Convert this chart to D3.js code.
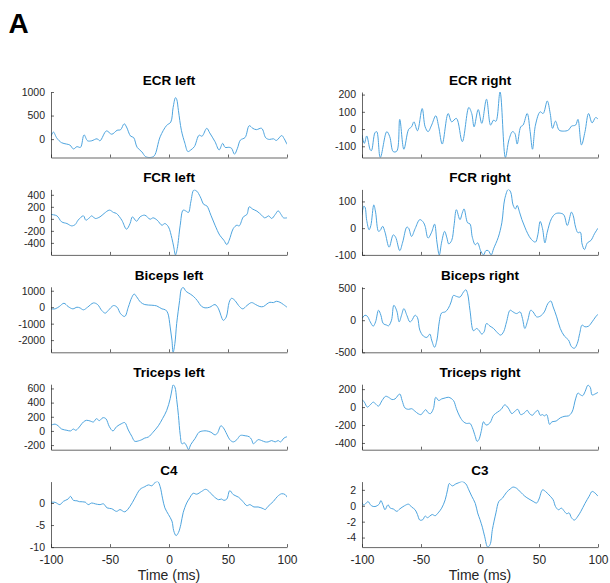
<!DOCTYPE html>
<html><head><meta charset="utf-8">
<script src="https://cdn.jsdelivr.net/npm/d3@7"></script>
<style>
body{margin:0;background:#fff}
svg{display:block}
text{font-family:"Liberation Sans",Arial,Helvetica,sans-serif}
</style>
</head><body>
<svg id="chart" width="610" height="583"></svg>
<script>
// ---------- data (time in ms, value) ----------
const xTicks = [-100, -50, 0, 50, 100];
const panelLetter = "A";
const xLabel = "Time (ms)";

const ecrLeft = [[-100,60],[-98,150],[-95,20],[-91,-76],[-87,-104],[-84,-125],[-81,-208],[-78,-160],[-75,-174],[-72,90],[-69,-35],[-65.5,-35],[-61,7],[-58.5,-35],[-53,174],[-48.5,104],[-44,187],[-41,200],[-38,326],[-36,257],[-32.5,62],[-30,35],[-27,-174],[-23,-270],[-20,-368],[-16,-390],[-12.5,-354],[-7.5,49],[-2,291],[1.5,361],[3.5,673],[5.5,880],[6.5,847],[8,604],[10.5,187],[13.5,-90],[16,-264],[18.5,-229],[21.5,-160],[25.5,83],[28,62],[32,229],[34.5,132],[39,-55],[42.5,-229],[45.5,-90],[47.5,-174],[51,-174],[53,-194],[55.5,-319],[58,-194],[60.5,-21],[64.5,35],[68,285],[71,229],[74,201],[78.5,229],[82,28],[85,-7],[88.5,7],[91,-28],[95.5,76],[97.5,14],[100,-111]];

const ecrRight = [[-100,-35],[-98,-83],[-96,-40],[-93,-121],[-92,-125],[-89,-21],[-87.5,-15],[-84.5,-165],[-79,-15],[-76.5,-44],[-73.5,-131],[-70.5,-128],[-68,56],[-64.5,-117],[-60.5,-2],[-58,13],[-56,42],[-53,-10],[-49,119],[-46.5,13],[-44,-15],[-41,23],[-37.5,77],[-35,13],[-32,-87],[-27,90],[-24,42],[-20,62],[-15,-73],[-9.5,125],[-7,90],[-5,13],[-1.5,113],[1.5,33],[5.5,173],[9,23],[11.5,52],[13.5,45],[17,215],[21.5,-165],[24.5,-63],[27.5,-15],[29.5,-25],[31.5,-87],[34.5,13],[36.5,23],[40,90],[42.5,-15],[44.5,-117],[47,23],[51,100],[53.5,90],[57,163],[59.5,90],[61.5,4],[64,46],[67,-6],[70.5,-12],[75,-6],[77.5,17],[81,23],[83,56],[86,-92],[89,-15],[92,90],[95,36],[98,67],[100,58]];

const fcrLeft = [[-100,72],[-95,50],[-91,-50],[-86.5,-78],[-82.5,-117],[-79.5,-95],[-77,-22],[-72.5,50],[-70.5,-22],[-67.5,17],[-65.5,50],[-62.5,6],[-58.5,33],[-55,89],[-50.5,145],[-47,106],[-44.5,89],[-40,-22],[-36,-172],[-33,-78],[-31,33],[-27.5,-39],[-24.5,33],[-20.5,61],[-16,-6],[-13.5,17],[-10,-22],[-6,-106],[-3.5,-78],[-0.5,-133],[2.5,-328],[4,-467],[5.5,-600],[7,-494],[9.5,-106],[12,145],[14.5,128],[16.5,106],[18.5,283],[21,478],[23.5,461],[26.5,367],[29.5,239],[32,217],[35.5,61],[39,-106],[43,-272],[46.5,-356],[49,-428],[51,-356],[54.5,-161],[57.5,-106],[59.5,-117],[63,33],[66,72],[68,200],[71,161],[74.5,128],[78.5,61],[81,17],[83,33],[84.5,50],[87,6],[90,72],[92.5,133],[95,72],[97,17],[100,17]];

const fcrRight = [[-100,50],[-98.5,82],[-97.5,79],[-96,29],[-94,-6],[-92.5,10],[-90,87],[-88.5,60],[-86,-12],[-84.5,-8],[-82.5,7],[-80.5,-15],[-77,-71],[-73.5,-25],[-71.5,-34],[-68,-84],[-65.5,-52],[-62,4],[-60.5,0],[-58,-31],[-55,-2],[-51,32],[-48,22],[-46.5,7],[-44,-37],[-41,-15],[-38.5,15],[-36.5,-52],[-34.5,-100],[-32.5,-52],[-30,-12],[-28,-37],[-26.5,-59],[-24,-46],[-22,10],[-20,69],[-17,32],[-15,57],[-13.5,72],[-10.5,20],[-8.5,16],[-6.5,-34],[-4,-62],[-2,-55],[0.5,-84],[3,-100],[5,-84],[7,-84],[9.5,-100],[11.5,-77],[15.5,-34],[18.5,20],[21,110],[24,145],[26,135],[28,87],[30,72],[31.5,85],[33.5,60],[35.5,32],[38,4],[40.5,-21],[43.5,-42],[47,-52],[49,-25],[51,25],[53,-2],[55,-55],[57,-15],[60.5,35],[64,54],[68,56],[71,50],[74,10],[77.5,60],[79,47],[81,4],[83,-17],[85,-15],[86.5,-59],[88.5,-80],[91,-55],[94,-46],[97,-21],[100,0]];

const bicepsLeft = [[-100,-100],[-96.5,-100],[-93,40],[-89,240],[-85.5,40],[-81.5,-100],[-78,0],[-75.5,-40],[-72.5,-160],[-69,0],[-64,260],[-60.5,160],[-57,-200],[-54,-360],[-51.5,-200],[-47,100],[-44,0],[-41,-400],[-37.5,-560],[-34.5,0],[-31.5,600],[-29.5,800],[-27.5,640],[-24,300],[-20.5,160],[-14.5,120],[-10.5,80],[-6,-100],[-3,-160],[-1,-360],[1,-1200],[2.5,-2000],[3.5,-2750],[5,-2200],[6.5,-1000],[9,400],[10.5,1100],[12,1200],[14.5,960],[18,800],[21,640],[24,400],[27.5,60],[30.5,-40],[34.5,0],[39,160],[42,-100],[44,-500],[46,-800],[48.5,-600],[51,300],[53,540],[56,400],[59,100],[62.5,-100],[66,100],[70,280],[73.5,160],[77,40],[80,40],[83,200],[85.5,300],[88.5,280],[91,360],[94,300],[97,160],[100,0]];

const bicepsRight = [[-100,26],[-97.5,77],[-95.5,62],[-93,-26],[-90.5,-93],[-88.5,-26],[-86,155],[-84,77],[-82,-52],[-79,-77],[-77.5,-88],[-75,0],[-73,232],[-70.5,144],[-68.5,-26],[-66.5,77],[-64.5,180],[-62,77],[-59.5,-26],[-58,-10],[-55,77],[-53,41],[-51,-155],[-48,-247],[-45,-268],[-42.5,-216],[-41,-309],[-38.5,-422],[-36.5,-309],[-34.5,-26],[-32.5,113],[-29.5,129],[-27,180],[-24.5,283],[-22.5,386],[-20,371],[-17,360],[-14,438],[-12,474],[-10.5,412],[-8.5,155],[-5.5,-165],[-3,-129],[-1,-155],[1.5,-216],[3.5,-180],[5.5,-52],[8.5,-93],[11.5,-129],[14,-180],[17.5,-232],[20,-180],[22.5,-26],[25.5,155],[28,129],[31,103],[34,129],[36,26],[38,-129],[40.5,0],[43,155],[45,129],[48,52],[51,62],[54.5,129],[57.5,258],[60,299],[62,206],[65,52],[68,-129],[71.5,-247],[75,-309],[77.5,-412],[80,-437],[82.5,-360],[84.5,-206],[86.5,-77],[89,-103],[92,-93],[95,-26],[98,52],[100,93]];

const tricepsLeft = [[-100,82],[-96.5,96],[-94,73],[-91,27],[-86.5,9],[-83.5,0],[-81,27],[-79,9],[-77,36],[-72.5,127],[-70,150],[-67,141],[-64,127],[-61.5,173],[-59,146],[-56,187],[-53.5,173],[-50.5,59],[-47.5,0],[-44.5,59],[-40,105],[-37.5,118],[-34.5,14],[-31.5,-77],[-29,-146],[-25,-136],[-23,-123],[-20.5,-100],[-17.5,-86],[-13.5,-18],[-9,73],[-5.5,173],[-2,287],[1,455],[2.5,582],[3.5,650],[5,619],[6.5,446],[8,218],[9.5,-55],[11,-182],[13,-168],[15,-214],[16.5,-265],[18.5,-191],[22,-109],[25.5,-18],[29,0],[32,0],[35.5,-18],[39,-55],[41,-32],[44,73],[46,46],[49,-46],[51.5,-123],[54.5,-155],[57.5,-123],[60.5,-64],[64.5,-68],[68,-82],[70,-123],[71.5,-182],[73.5,-155],[75.5,-123],[78.5,-136],[81.5,-155],[84,-155],[87,-136],[90,-155],[92.5,-136],[94.5,-155],[97.5,-100],[100,-82]];

const tricepsRight = [[-100,84],[-98,55],[-95.5,0],[-93,25],[-90.5,55],[-88.5,36],[-86,11],[-83,73],[-80,120],[-77.5,109],[-74.5,84],[-72,91],[-68,146],[-66,73],[-63.5,-11],[-60.5,-25],[-58,-18],[-55,-47],[-52.5,-73],[-50,-84],[-48,-55],[-46,-29],[-44,-62],[-42,-73],[-39.5,-18],[-37.5,109],[-35,73],[-32.5,91],[-29.5,102],[-26.5,109],[-22.5,73],[-20,-18],[-17,-109],[-14,-164],[-11.5,-182],[-8.5,-182],[-6.5,-229],[-4,-327],[-2.5,-382],[-1,-364],[1,-273],[3,-164],[5,-200],[7,-193],[9,-164],[11.5,-91],[15,-55],[18,-25],[21,25],[24,-11],[27,-73],[29.5,-47],[32,-25],[34.5,-84],[37.5,-66],[40,-36],[42,-73],[44.5,-91],[46.5,-62],[49,-36],[51,-91],[53,-84],[54.5,-98],[56.5,-84],[59,-193],[61,-164],[64.5,-156],[68,-120],[72,-102],[75,-98],[78,-55],[81,91],[83,156],[85,138],[87,127],[89,171],[91.5,244],[93.5,218],[95,135],[97.5,146],[100,164]];

const c4 = [[-100,0.15],[-96.5,0.15],[-92.5,-0.37],[-89.5,0.37],[-85.5,0.9],[-83.5,1.5],[-81,0.6],[-78,0.5],[-76,0.3],[-71,0.2],[-68.5,-0.37],[-65.5,0],[-62.5,-0.2],[-58.5,-0.37],[-55.5,-0.2],[-52.5,-1.1],[-48.5,-1.3],[-44.5,-1.9],[-41.5,-1.5],[-37.5,-2.0],[-33,-0.75],[-29,1.1],[-24.5,3.1],[-20.5,3.7],[-17.5,4.1],[-14.5,3.9],[-12,4.6],[-9.5,4.85],[-7.5,3.7],[-5.5,1.1],[-3.5,-1.1],[-0.5,-2.6],[2.5,-4.1],[4,-6.3],[6,-7.4],[8,-6.7],[10,-4.9],[12,-2.2],[15,0],[17,0.9],[20.5,2.2],[23.5,2.0],[27.5,2.6],[31,3.1],[34,2.6],[37.5,1.6],[42,0.75],[44.5,0.9],[46.5,0.6],[49,0.9],[51.5,2.8],[54.5,1.9],[59,1.3],[62.5,0.37],[66,-0.6],[68.5,-0.37],[72,-0.9],[75.5,-0.9],[80,-1.3],[81.5,-1.5],[84,-0.75],[88.5,0.37],[92,1.5],[95.5,2.1],[98.5,1.9],[100,1.3]];

const c3 = [[-100,0.4],[-98.5,0.1],[-96,0.4],[-95,0.55],[-92,0],[-89,-0.1],[-85.5,0.2],[-84,0.65],[-82,0],[-80.5,-0.5],[-78,0.12],[-76,-0.3],[-73.5,-0.4],[-70.5,-0.7],[-68,-0.4],[-64,0],[-60.5,0.2],[-58,-0.15],[-55,-0.5],[-53,-1.1],[-51,-1.8],[-48.5,-1.75],[-46.5,-1.3],[-44.5,-1.5],[-42.5,-1.3],[-40.5,-1.1],[-38,-1.25],[-35.5,-0.9],[-32.5,-0.3],[-29.5,0.75],[-27.5,2.0],[-26,2.8],[-23.5,2.5],[-20.5,2.75],[-18,2.9],[-15,3.04],[-12,2.75],[-9.5,2.0],[-7,1.2],[-4,0.3],[-2,-0.9],[0,-1.75],[2,-2.7],[4,-3.9],[6.5,-5.2],[8.5,-4.9],[10.5,-3.0],[13.5,-0.9],[16,0.55],[19,0.95],[22.5,1.7],[25.5,2.1],[28,2.35],[31,2.2],[34.5,1.7],[38,1.2],[41.5,0.85],[45,0.55],[48,0.35],[50,0.85],[53,2.0],[55.5,1.8],[59.5,1.2],[62,0.75],[64,-0.1],[66.5,-0.5],[69,-0.3],[71.5,-0.7],[73.5,-1.0],[75.5,-0.9],[77.5,-1.5],[80,-1.8],[83,-1.3],[85.5,-0.7],[89,0.3],[92.5,1.2],[95,1.8],[97.5,1.6],[100,1.2]];

const panelTitles = ["ECR left","ECR right","FCR left","FCR right","Biceps left","Biceps right","Triceps left","Triceps right","C4","C3"];
const panelSeries = [ecrLeft, ecrRight, fcrLeft, fcrRight, bicepsLeft, bicepsRight, tricepsLeft, tricepsRight, c4, c3];
const yLimits = [[-390,1000],[-165,215],[-600,490],[-100,145],[-2740,1240],[-500,520],[-265,660],[-475,255],[-10,4.85],[-5.2,3.04]];
const yTickValues = [[0,500,1000],[-100,0,100,200],[-400,-200,0,200,400],[-100,0,100],[-2000,-1000,0,1000],[-500,0,500],[-200,0,200,400,600],[-400,-200,0,200],[-10,-5,0],[-4,-2,0,2]];

// ---------- layout ----------
const svg = d3.select("#chart");
const colX = [[51, 287], [362, 598]];
const rowTop0 = 92, rowStep = 97.4, plotH = 65.5;
const lineColor = "#4ea4de";
const axisColor = "#262626";
const fontFam = '"Liberation Sans",Arial,Helvetica,sans-serif';
const minus = d => d < 0 ? "-" + Math.abs(d) : String(d);

svg.append("text").attr("x", 8.5).attr("y", 33).attr("font-size", 28).attr("font-weight", "bold")
  .attr("fill", "#000").text(panelLetter);

panelSeries.forEach((data, i) => {
  const col = i % 2, row = Math.floor(i / 2);
  const [x0, x1] = colX[col];
  const top = rowTop0 + row * rowStep, bottom = top + plotH;
  const x = d3.scaleLinear().domain([-100, 100]).range([x0, x1]);
  const y = d3.scaleLinear().domain(yLimits[i]).range([bottom, top]);
  const g = svg.append("g");

  const clipId = "clip" + i;
  svg.append("defs").append("clipPath").attr("id", clipId)
    .append("rect").attr("x", x0).attr("y", top).attr("width", x1 - x0).attr("height", bottom - top);

  g.append("path").datum(data)
    .attr("clip-path", `url(#${clipId})`)
    .attr("fill", "none").attr("stroke", lineColor).attr("stroke-width", 1)
    .attr("stroke-linejoin", "round")
    .attr("d", d3.line().x(d => x(d[0])).y(d => y(d[1])).curve(d3.curveCatmullRom.alpha(0.5)));

  const isBottom = row === 4;
  const xa = g.append("g").attr("transform", `translate(0,${bottom})`)
    .call(d3.axisBottom(x).tickValues(xTicks).tickSize(-3).tickSizeOuter(0).tickPadding(8)
      .tickFormat(isBottom ? minus : () => ""));
  const ya = g.append("g").attr("transform", `translate(${x0},0)`)
    .call(d3.axisLeft(y).tickValues(yTickValues[i]).tickSize(-3).tickSizeOuter(0).tickPadding(6)
      .tickFormat(minus));
  [xa, ya].forEach(a => {
    a.select(".domain").attr("stroke", axisColor).attr("stroke-width", 0.7);
    a.selectAll(".tick line").attr("stroke", axisColor).attr("stroke-width", 0.7);
    a.selectAll(".tick text").attr("fill", axisColor).attr("font-family", fontFam);
  });
  xa.selectAll(".tick text").attr("font-size", 12);
  ya.selectAll(".tick text").attr("font-size", 10.5);

  g.append("text").attr("x", (x0 + x1) / 2).attr("y", top - 7)
    .attr("text-anchor", "middle").attr("font-size", 13.5).attr("font-weight", "bold")
    .attr("fill", "#000").text(panelTitles[i]);

  if (isBottom) {
    g.append("text").attr("x", (x0 + x1) / 2).attr("y", 580)
      .attr("text-anchor", "middle").attr("font-size", 14).attr("fill", axisColor).text(xLabel);
  }
});
</script>
</body></html>
